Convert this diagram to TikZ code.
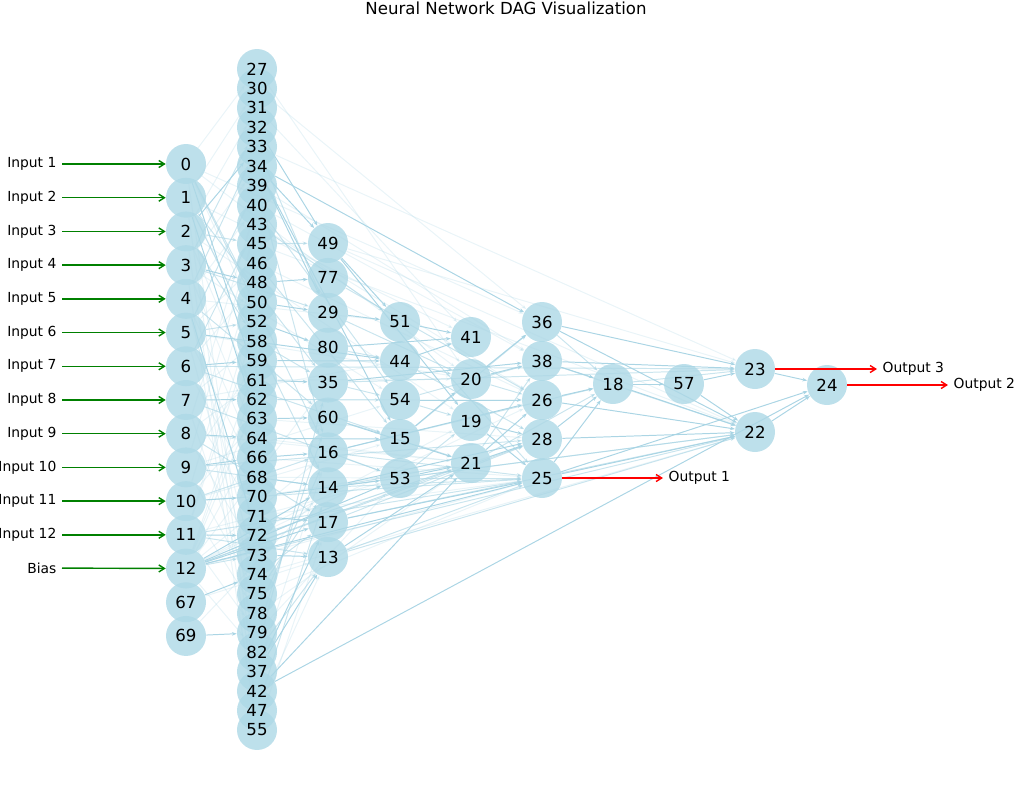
\documentclass[tikz,border=0pt]{standalone}
\usepackage{fontspec}
\setmainfont{DejaVu Sans}
\usetikzlibrary{arrows.meta,backgrounds}
\definecolor{nodeblue}{HTML}{ADD8E6}
\definecolor{edgeblue}{HTML}{A6D3E3}
\definecolor{ingreen}{HTML}{008000}
\definecolor{outred}{HTML}{FF0000}

\begin{document}
\begin{tikzpicture}[x=0.025cm,y=-0.025cm,
  vertex/.style={circle,fill=nodeblue,fill opacity=0.8,minimum size=1cm,inner sep=0pt},
  vlabel/.style={inner sep=0pt,font=\fontsize{11.8}{14}\selectfont},
  edge/.style={draw=edgeblue,line width=0.7pt,-{Stealth[length=3.5pt,width=2.6pt]}},
  strong/.style={edge,opacity=0.95},
  medium/.style={edge,opacity=0.6},
  faint/.style={edge,opacity=0.25},
  inlabel/.style={anchor=east,inner sep=2pt,outer sep=2pt,font=\fontsize{9.85}{12}\selectfont},
  outlabel/.style={anchor=west,inner sep=2pt,outer sep=2pt,font=\fontsize{9.85}{12}\selectfont},
  inarrow/.style={draw=ingreen,line width=1pt,-{Straight Barb[length=4pt,width=5pt]}},
  outarrow/.style={draw=outred,line width=1pt,-{Straight Barb[length=4pt,width=5pt]}}]

  \useasboundingbox (0,0) rectangle (1016,792);

  % Title
  \node[vlabel] (title) at (506,8) {Neural Network DAG Visualization};

  % Draw the layers
  \foreach \n [count=\i from 0] in {0,1,2,3,4,5,6,7,8,9,10,11,12,67,69}
    \node[vertex] (n\n) at (186,{164+\i*33.71}) {};
  \foreach \n [count=\i from 0] in {27,30,31,32,33,34,39,40,43,45,46,48,50,52,58,59,61,62,63,64,66,68,70,71,72,73,74,75,78,79,82,37,42,47,55}
    \node[vertex] (n\n) at (257,{69+\i*19.44}) {};
  \foreach \n [count=\i from 0] in {49,77,29,80,35,60,16,14,17,13}
    \node[vertex] (n\n) at (328,{243+\i*34.89}) {};
  \foreach \n [count=\i from 0] in {51,44,54,15,53}
    \node[vertex] (n\n) at (400,{322+\i*39}) {};
  \foreach \n [count=\i from 0] in {41,20,19,21}
    \node[vertex] (n\n) at (471,{337+\i*42}) {};
  \foreach \n [count=\i from 0] in {36,38,26,28,25}
    \node[vertex] (n\n) at (542,{322+\i*39}) {};
  \node[vertex] (n18) at (613,384) {};
  \node[vertex] (n57) at (684,384) {};
  \node[vertex] (n23) at (755,369) {};
  \node[vertex] (n22) at (755,432) {};
  \node[vertex] (n24) at (827,385) {};

  % Node labels on top of all circles
  \foreach \n in {0,1,2,3,4,5,6,7,8,9,10,11,12,67,69,
    27,30,31,32,33,34,39,40,43,45,46,48,50,52,58,59,61,62,63,64,66,68,70,71,72,73,74,75,78,79,82,37,42,47,55,
    49,77,29,80,35,60,16,14,17,13,51,44,54,15,53,41,20,19,21,36,38,26,28,25,18,57,23,22,24}
    \node[vlabel] at (n\n) {\n};

  % Draw the edges behind the nodes
  \begin{scope}[on background layer]
    \foreach \a/\b in {34/36,32/49,34/49,34/15,34/29,49/51,49/19,51/41,29/51,44/41,20/36,15/20,
      42/24,42/21,37/13,37/17,36/23,36/22,38/23,38/18,26/18,26/22,28/18,28/22,25/18,25/22,25/24,
      18/57,18/22,57/23,57/22,22/24,23/24,21/26,19/28,19/25,53/21,59/44,12/17,12/14,12/53,12/25,
      0/61,1/63,2/33,3/48,4/72,5/44,6/59,7/62,8/64,9/66,10/70,11/72,67/74,69/79,48/77,50/29,
      52/80,61/35,63/60,64/15,66/16,68/14,70/53,71/17,73/13,16/26,14/28,17/25,13/21,54/26,
      21/28,20/38,35/38,80/41,60/21}
      \draw[strong] (n\a) -- (n\b);
    \foreach \a/\b in {0/50,0/16,1/35,1/14,2/58,3/29,4/60,4/33,5/52,6/15,7/53,8/17,9/14,10/16,
      11/13,12/73,12/21,12/28,12/22,3/32,5/39,6/43,2/45,6/23,45/49,58/35,62/54,72/21,74/17,
      75/14,78/16,79/60,82/35,46/15,43/51,40/54,39/16,33/29,47/14,82/13,77/26,29/20,80/44,
      35/54,60/15,16/53,16/25,14/21,14/25,17/28,17/22,13/25,13/22,44/20,44/28,54/19,15/21,
      15/36,53/25,53/19,21/38,21/18,20/26,51/25,11/25,10/25,9/28,14/22,53/22,16/18,18/23,
      35/23,38/22,36/18,54/38}
      \draw[medium] (n\a) -- (n\b);
    \foreach \a/\b in {0/36,30/36,33/23,39/38,45/22,46/26,49/23,49/22,31/41,27/20,40/38,43/26,
      0/20,1/41,2/19,3/54,4/51,5/20,7/44,8/21,9/54,10/15,11/53,12/26,12/19,67/13,69/14,
      0/52,1/58,2/62,3/64,4/66,5/68,6/70,7/71,8/73,9/75,10/78,11/79,12/82,0/37,1/42,2/47,
      3/55,4/74,5/75,7/78,8/61,9/59,10/63,11/50,1/30,0/27,2/31,3/34,4/40,5/46,6/48,7/58,
      8/40,9/43,10/46,11/52,12/59,12/61,12/62,12/64,12/16,12/35,61/20,62/26,63/28,64/21,
      66/25,68/53,70/21,71/25,72/28,73/25,74/22,75/25,78/21,79/53,55/17,47/13,37/16}
      \draw[faint] (n\a) -- (n\b);
  \end{scope}

  % Inputs and bias
  \foreach \k [count=\i from 0] in {1,...,12} {
    \node[inlabel] (in\k) at (62,{164+\i*33.71}) {Input \k};
    \draw[inarrow] (in\k) -- (n\i);
  }
  \node[inlabel] (bias) at (62,568) {Bias};
  \draw[inarrow] (bias) -- (n12);

  % Outputs
  \node[outlabel] (out1) at (663,478) {Output 1};
  \node[outlabel] (out3) at (877,369) {Output 3};
  \node[outlabel] (out2) at (948,385) {Output 2};
  \draw[outarrow] (n25) -- (out1);
  \draw[outarrow] (n23) -- (out3);
  \draw[outarrow] (n24) -- (out2);

\end{tikzpicture}
\end{document}
